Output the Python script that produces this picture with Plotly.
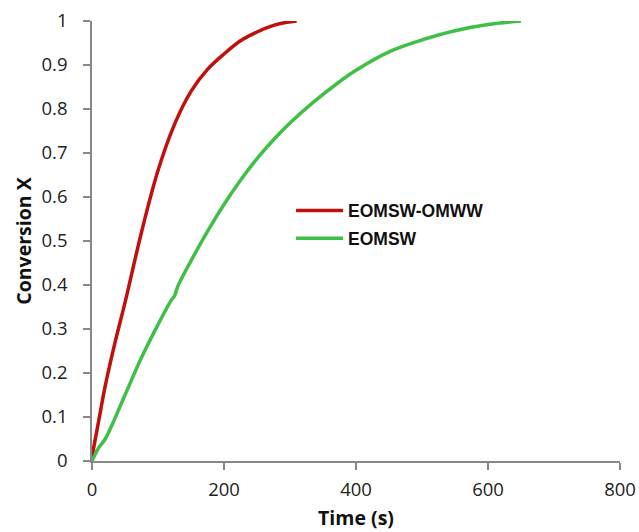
import plotly.graph_objects as go

series_names = ["EOMSW-OMWW", "EOMSW"]

# EOMSW-OMWW (red)
t_red = [0, 10, 20, 35, 50, 75, 100, 125, 150, 175, 200, 225, 250, 275, 295, 310]
x_red = [0.01, 0.09, 0.17, 0.27, 0.36, 0.52, 0.66, 0.765, 0.84, 0.89, 0.925, 0.955, 0.975, 0.99, 0.997, 1.0]

# EOMSW (green)
t_green = [0, 10, 20, 50, 75, 100, 120, 125, 130, 150, 175, 200, 225, 250, 275, 300, 335, 375, 400, 450, 500, 550, 600, 650]
x_green = [0.0, 0.03, 0.05, 0.15, 0.235, 0.31, 0.365, 0.375, 0.397, 0.455, 0.522, 0.583, 0.638, 0.687, 0.73, 0.768, 0.815, 0.862, 0.888, 0.93, 0.957, 0.978, 0.992, 1.0]

x_ticks = [0, 200, 400, 600, 800]
y_ticks = [0, 0.1, 0.2, 0.3, 0.4, 0.5, 0.6, 0.7, 0.8, 0.9, 1]
y_tick_labels = ["0", "0.1", "0.2", "0.3", "0.4", "0.5", "0.6", "0.7", "0.8", "0.9", "1"]

fig = go.Figure()
fig.add_trace(go.Scatter(x=t_red, y=x_red, mode="lines", name=series_names[0],
                         legendgroup="a",
                         line=dict(color="#c0100c", width=3.5, shape="spline")))
fig.add_trace(go.Scatter(x=t_green, y=x_green, mode="lines", name=series_names[1],
                         legendgroup="b",
                         line=dict(color="#3fbf46", width=3.5, shape="spline")))

tick_font = dict(family="Open Sans, sans-serif", size=18.5, color="#222")
title_font = dict(family="Open Sans, sans-serif", size=19.5, color="#111")
fig.update_layout(
    width=639, height=532,
    margin=dict(l=92, r=19, t=21, b=71),
    paper_bgcolor="white", plot_bgcolor="white",
    showlegend=True,
    legend=dict(x=0.377, y=0.5375, xanchor="left", yanchor="middle",
                font=dict(family="Liberation Sans, Arial, sans-serif", size=17.5, color="#111",
                          weight="bold"),
                tracegroupgap=2, bgcolor="rgba(0,0,0,0)", itemwidth=47),
    xaxis=dict(range=[0, 800], tickvals=x_ticks, ticks="outside", ticklen=7,
               tickcolor="#888", tickwidth=1.5, ticklabelstandoff=4, automargin=False,
               showline=True, linecolor="#888", linewidth=1.5, showgrid=False,
               zeroline=False, tickfont=tick_font,
               title=dict(text="<b>Time (s)</b>", font=title_font, standoff=11)),
    yaxis=dict(range=[0, 1], tickvals=y_ticks, ticktext=y_tick_labels, ticks="outside", ticklen=7,
               tickcolor="#888", tickwidth=1.5, ticklabelstandoff=12, automargin=False,
               showline=True, linecolor="#888", linewidth=1.5, showgrid=False,
               zeroline=False, tickfont=tick_font,
               title=dict(text="<b>Conversion X</b>", font=title_font, standoff=5)),
)

fig.write_html("out.html", config={"displayModeBar": False},
               post_script="document.body.style.margin='0';")
